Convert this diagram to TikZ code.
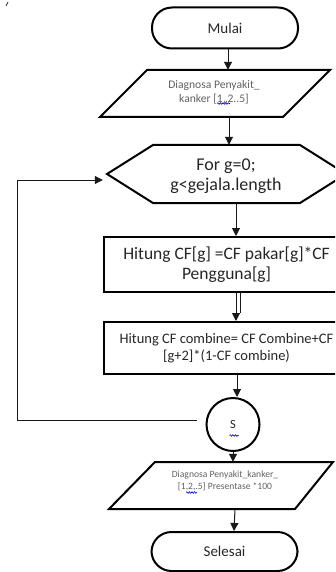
\documentclass[tikz,border=0pt]{standalone}
\usepackage{fontspec}
\setmainfont{Carlito}
\usetikzlibrary{arrows.meta,decorations.pathmorphing}

\begin{document}
\begin{tikzpicture}[x=1pt,y=-1pt,
  outline/.style={draw=black,line width=2pt,line join=miter},
  frame/.style={inner sep=0pt,minimum height=#1},
  term/.style={outline,rounded corners=20pt,minimum width=146pt,minimum height=41pt,
    font=\fontsize{15}{18}\selectfont,text=black!85},
  procbox/.style={outline,minimum width=245pt,inner sep=0pt},
  arr/.style={-{Triangle[length=8pt,width=8pt]},line width=1pt,draw=black!90},
  plain/.style={line width=1pt,draw=black!90},
  iotext/.style={text=black!62,align=center,inner sep=0pt},
  squiggle/.style={draw=blue!80!black,line width=0.6pt,
    decorate,decoration={snake,amplitude=0.8pt,segment length=2.6pt}}
]
\useasboundingbox (0,0) rectangle (335,572);
\clip (0,0) rectangle (335,572);

% stray pen mark
\draw[line width=1.1pt,black!70] (6,6) -- (8,2);

% start
\node[term] (mulai) at (225,28) {Mulai};

% input: diagnosis
\draw[outline] (147,70) -- (330,70) -- (283,117) -- (100,117) -- cycle;
\node[frame=47pt,minimum width=183pt] (p1) at (215,93.5) {};
\node[iotext,font=\fontsize{11.6}{14}\selectfont] (p1t) at (214,92.5)
  {Diagnosa Penyakit\_\\kanker [1,,2..5]};
\draw[squiggle] (217,103.5) -- (230,103.5);

% loop header
\draw[outline] (107,174) -- (153,145) -- (300,145) -- (346,174) -- (300,203) -- (153,203) -- cycle;
\node[frame=58pt,minimum width=239pt] (hx) at (226.5,174) {};
\node[align=center,inner sep=0pt,text=black!85,font=\fontsize{18}{20}\selectfont]
  (hxt) at (226,176) {For g=0;\\g<gejala.length};

% process boxes
\node[procbox,minimum height=55pt,align=center,text=black!85,
  font=\fontsize{17.5}{20}\selectfont] (r1) at (226.5,264.5)
  {Hitung CF[g] =CF pakar[g]*CF\\Pengguna[g]};
\node[procbox,minimum height=52pt,align=center,text=black!85,
  font=\fontsize{14.5}{17}\selectfont] (r2) at (226.5,348)
  {Hitung CF combine= CF Combine+CF\\{}[g+2]*(1-CF combine)};

% connector
\node[circle,outline,minimum size=53pt,inner sep=0pt,text=black!85,
  font=\fontsize{12.5}{14}\selectfont] (con) at (233,424.5) {S};
\draw[squiggle] (229.5,435.5) -- (238.5,435.5);

% output
\draw[outline] (155,462) -- (333,462) -- (295,509) -- (109,509) -- cycle;
\node[frame=47pt,minimum width=182pt] (p2) at (221,485.5) {};
\node[iotext,font=\fontsize{9.6}{12}\selectfont] (p2t) at (225,481)
  {Diagnosa Penyakit\_kanker\_\\{}[1,2,.5] Presentase *100};
\draw[squiggle] (186,492.5) -- (197,492.5);

% end
\node[term,minimum height=39pt] (selesai) at (224.5,551.5) {Selesai};

% flow
\draw[arr] ([xshift=3pt]mulai.south) -- ([xshift=3pt]mulai.south |- p1.north);
\draw[arr] ([xshift=14pt]p1.south) -- ([xshift=14pt]p1.south |- hx.north);
\draw[arr] ([xshift=9.5pt]hx.south) -- ([xshift=9.5pt]hx.south |- r1.north);
\draw[arr] ([xshift=9.5pt]r1.south) -- ([xshift=9.5pt]r1.south |- r2.north);
\draw[plain] ([xshift=14pt]r1.south) -- ([xshift=14pt,yshift=8pt]r1.south |- r2.north);
\draw[arr] ([xshift=10.5pt]r2.south) -- ([xshift=10.5pt]r2.south |- con.north);
\draw[arr] (con.south) -- (con.south |- p2.north);
\draw[arr] ([xshift=14pt]p2.south) -- ([xshift=13pt]p2.south |- selesai.north);

% loop back
\coordinate (loopc) at (17,420);
\draw[arr] ([xshift=-9pt,yshift=4.5pt]con.west) -- (loopc) |- ([xshift=-4pt,yshift=-6pt]hx.west);
\end{tikzpicture}
\end{document}
